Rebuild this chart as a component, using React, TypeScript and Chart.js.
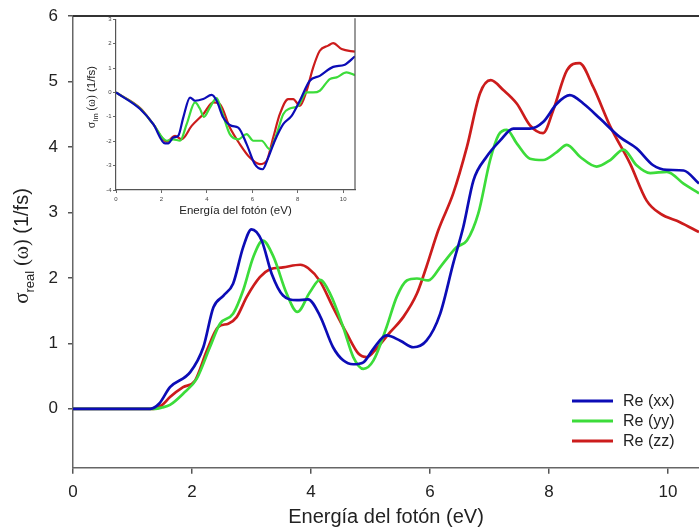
import React, { useEffect, useRef } from 'react';
import { Chart, registerables } from 'chart.js';
Chart.register(...registerables);

const SANS = '"Liberation Sans", Arial, sans-serif';
const SERIF = '"Liberation Serif", "Times New Roman", serif';

// ---------- main panel data (σ real) ----------
const xxE = [0, 1.3, 1.45, 1.63, 1.97, 2.19, 2.36, 2.53, 2.69, 2.86, 3.0, 3.17, 3.34, 3.53, 3.76, 3.95, 4.15, 4.37, 4.54, 4.71, 4.88, 5.05, 5.27, 5.5, 5.72, 5.94, 6.17, 6.39, 6.56, 6.73, 6.95, 7.18, 7.4, 7.68, 7.9, 8.13, 8.35, 8.58, 8.86, 9.19, 9.47, 9.75, 9.98, 10.26, 10.52];
const xxV = [0, 0, 0.08, 0.33, 0.56, 0.94, 1.55, 1.73, 1.91, 2.47, 2.74, 2.57, 2.06, 1.73, 1.66, 1.67, 1.42, 0.94, 0.74, 0.68, 0.71, 0.92, 1.12, 1.04, 0.94, 1.04, 1.45, 2.22, 2.78, 3.49, 3.85, 4.1, 4.28, 4.28, 4.38, 4.66, 4.79, 4.66, 4.43, 4.15, 3.98, 3.72, 3.65, 3.64, 3.44];

const yyE = [0, 1.38, 1.5, 1.63, 1.85, 2.08, 2.3, 2.47, 2.69, 2.86, 3.03, 3.19, 3.37, 3.59, 3.77, 3.98, 4.15, 4.32, 4.54, 4.71, 4.88, 5.05, 5.27, 5.44, 5.61, 5.78, 5.97, 6.2, 6.45, 6.62, 6.81, 7.01, 7.15, 7.29, 7.46, 7.68, 7.9, 8.13, 8.3, 8.52, 8.8, 9.03, 9.25, 9.47, 9.7, 9.98, 10.26, 10.52];
const yyV = [0, 0, 0.02, 0.06, 0.23, 0.46, 0.94, 1.3, 1.45, 1.81, 2.32, 2.57, 2.32, 1.76, 1.48, 1.78, 1.97, 1.76, 1.25, 0.79, 0.61, 0.74, 1.25, 1.71, 1.96, 1.99, 1.96, 2.2, 2.47, 2.57, 2.98, 3.8, 4.18, 4.26, 4.05, 3.82, 3.8, 3.92, 4.03, 3.85, 3.7, 3.8, 3.96, 3.72, 3.6, 3.62, 3.44, 3.29];

const zzE = [0, 1.35, 1.5, 1.63, 1.85, 2.05, 2.25, 2.44, 2.61, 2.75, 2.92, 3.14, 3.31, 3.53, 3.82, 3.95, 4.15, 4.37, 4.6, 4.8, 4.94, 5.1, 5.33, 5.55, 5.78, 5.94, 6.14, 6.39, 6.62, 6.84, 7.02, 7.23, 7.46, 7.68, 7.9, 8.07, 8.3, 8.51, 8.74, 9.03, 9.36, 9.64, 9.87, 10.2, 10.52];
const zzV = [0, 0, 0.06, 0.18, 0.33, 0.43, 0.89, 1.25, 1.3, 1.4, 1.71, 2.01, 2.13, 2.16, 2.2, 2.15, 1.95, 1.55, 1.15, 0.84, 0.79, 0.92, 1.17, 1.4, 1.76, 2.17, 2.73, 3.29, 4.0, 4.82, 5.02, 4.87, 4.66, 4.33, 4.21, 4.56, 5.17, 5.28, 4.92, 4.31, 3.75, 3.18, 2.98, 2.85, 2.7];

// ---------- inset data (σ Im) ----------
const imXxE = [0, 1.06, 1.64, 2.16, 2.3, 2.52, 2.74, 2.96, 3.26, 3.48, 3.84, 4.21, 4.43, 4.72, 5.09, 5.38, 5.75, 6.11, 6.45, 6.7, 6.99, 7.36, 7.73, 8.09, 8.53, 8.97, 9.56, 10.07, 10.52];
const imXxV = [0, -0.68, -1.3, -2.09, -2.09, -1.85, -1.78, -1.03, -0.21, -0.34, -0.27, -0.1, -0.34, -1.03, -1.37, -1.44, -2.12, -2.94, -3.15, -2.67, -1.98, -1.3, -0.96, -0.34, 0.48, 0.68, 1.05, 1.14, 1.48];

const imYyE = [0, 1.06, 1.64, 2.23, 2.52, 2.82, 3.11, 3.48, 3.7, 3.87, 4.13, 4.43, 4.65, 5.01, 5.38, 5.75, 6.04, 6.41, 6.77, 7.07, 7.36, 7.65, 8.02, 8.39, 8.68, 8.97, 9.41, 9.71, 10.15, 10.52];
const imYyV = [0, -0.66, -1.3, -1.98, -1.92, -1.98, -1.3, -0.41, -0.68, -1.0, -0.62, -0.23, -0.75, -1.71, -1.92, -1.71, -1.98, -1.98, -2.33, -1.71, -0.89, -0.66, -0.55, 0, 0, 0.07, 0.55, 0.62, 0.82, 0.71];

const imZzE = [0, 1.06, 1.64, 2.23, 2.6, 2.89, 3.33, 3.84, 4.28, 4.57, 5.01, 5.45, 5.89, 6.33, 6.63, 6.92, 7.21, 7.58, 7.8, 8.09, 8.39, 8.68, 8.97, 9.34, 9.56, 9.93, 10.52];
const imZzV = [0, -0.64, -1.3, -2.02, -1.78, -1.92, -1.37, -0.89, -0.41, -0.48, -1.44, -2.12, -2.67, -2.94, -2.8, -1.85, -0.89, -0.27, -0.27, -0.55, 0.07, 1.03, 1.71, 1.92, 2.02, 1.78, 1.67];

// ---------- labels / ticks ----------
const seriesLabels = ['Re (xx)', 'Re (yy)', 'Re (zz)'];
const seriesColors = ['#0c0cb6', '#3cdc3a', '#cc1c1c'];
const xTitle = 'Energía del fotón (eV)';
const mainXTicks = [0, 2, 4, 6, 8, 10];
const mainYTicks = [0, 1, 2, 3, 4, 5, 6];
const insetXTicks = [0, 2, 4, 6, 8, 10];
const insetYTicks = [-4, -3, -2, -1, 0, 1, 2, 3];

const pts = (xs: number[], ys: number[]) => xs.map((x, i) => ({ x, y: ys[i] }));

function drawSigmaTitle(ctx: CanvasRenderingContext2D, baseX: number, centerY: number, size: number, sub: string) {
  const parts = [
    { t: 'σ', font: `${size * 1.05}px ${SERIF}`, dy: 0 },
    { t: sub, font: `${size * 0.65}px ${SANS}`, dy: size * 0.3 },
    { t: ' (ω)', font: `${size}px ${SERIF}`, dy: 0 },
    { t: ' (1/fs)', font: `${size}px ${SANS}`, dy: 0 },
  ];
  let total = 0;
  const widths = parts.map(p => { ctx.font = p.font; const w = ctx.measureText(p.t).width; total += w; return w; });
  ctx.save();
  ctx.translate(baseX, centerY);
  ctx.rotate(-Math.PI / 2);
  ctx.textAlign = 'left';
  ctx.textBaseline = 'alphabetic';
  let u = -total / 2;
  parts.forEach((p, i) => { ctx.font = p.font; ctx.fillText(p.t, u, p.dy); u += widths[i]; });
  ctx.restore();
}

const mainDecor = {
  id: 'mainDecor',
  afterDraw(chart: any) {
    const { ctx, chartArea: a } = chart;
    ctx.save();
    ctx.strokeStyle = '#333';
    ctx.lineWidth = 2;
    ctx.beginPath();
    ctx.moveTo(a.left, a.top);
    ctx.lineTo(a.right, a.top);
    ctx.stroke();
    ctx.fillStyle = '#222';
    ctx.font = `20px ${SANS}`;
    ctx.textAlign = 'center';
    ctx.textBaseline = 'middle';
    ctx.fillText(xTitle, (a.left + a.right) / 2, a.bottom + 50);
    drawSigmaTitle(ctx, 28, 246, 20, 'real');
    // legend
    seriesLabels.forEach((lab, i) => {
      const y = 401 + i * 20;
      ctx.strokeStyle = seriesColors[i];
      ctx.lineWidth = 3;
      ctx.beginPath();
      ctx.moveTo(572, y);
      ctx.lineTo(613, y);
      ctx.stroke();
      ctx.fillStyle = '#222';
      ctx.font = `16px ${SANS}`;
      ctx.textAlign = 'left';
      ctx.textBaseline = 'middle';
      ctx.fillText(lab, 623, y + 1);
    });
    ctx.restore();
  },
};

const insetDecor = {
  id: 'insetDecor',
  afterDraw(chart: any) {
    const { ctx, chartArea: a } = chart;
    ctx.save();
    ctx.strokeStyle = '#555';
    ctx.lineWidth = 1.2;
    ctx.beginPath();
    ctx.moveTo(a.right, a.top - 1);
    ctx.lineTo(a.right, a.bottom);
    ctx.stroke();
    ctx.fillStyle = '#222';
    ctx.font = `11.5px ${SANS}`;
    ctx.textAlign = 'center';
    ctx.textBaseline = 'middle';
    ctx.fillText(xTitle, (a.left + a.right) / 2, a.bottom + 21);
    drawSigmaTitle(ctx, 15, 80, 11.5, 'Im');
    ctx.restore();
  },
};

function fixScale(size: number, dim: 'width' | 'height') {
  return (s: any) => {
    s[dim] = size;
    s.paddingLeft = 0; s.paddingRight = 0; s.paddingTop = 0; s.paddingBottom = 0;
  };
}

export default function App() {
  const mainRef = useRef<HTMLCanvasElement>(null);
  const insetRef = useRef<HTMLCanvasElement>(null);

  useEffect(() => {
    const mainData = [pts(xxE, xxV), pts(yyE, yyV), pts(zzE, zzV)];
    const insetData = [pts(imXxE, imXxV), pts(imYyE, imYyV), pts(imZzE, imZzV)];
    const mkSets = (arr: any[], bw: number) => arr.map((d, i) => ({
      label: seriesLabels[i], data: d, borderColor: seriesColors[i], backgroundColor: seriesColors[i],
      borderWidth: bw, pointRadius: 0, cubicInterpolationMode: 'monotone', fill: false,
    }));

    const main = new Chart(mainRef.current!, {
      type: 'line',
      data: { datasets: mkSets(mainData, 2.7) as any },
      options: {
        animation: false, responsive: false, maintainAspectRatio: false,
        layout: { padding: { top: 16, left: 0, right: 0, bottom: 0 } },
        plugins: { legend: { display: false }, tooltip: { enabled: false } },
        scales: {
          x: {
            type: 'linear', min: 0, max: 10.52,
            afterBuildTicks: (s: any) => { s.ticks = mainXTicks.map(v => ({ value: v })); },
            afterFit: fixScale(60.3, 'height'),
            grid: { drawOnChartArea: false, tickLength: 6, color: '#555', lineWidth: 1.5 },
            border: { color: '#666', width: 1.5 },
            ticks: { font: { size: 17, family: SANS }, color: '#222', padding: 8, maxRotation: 0 },
          },
          y: {
            type: 'linear', min: -0.9, max: 6,
            afterBuildTicks: (s: any) => { s.ticks = mainYTicks.map(v => ({ value: v })); },
            afterFit: fixScale(73, 'width'),
            grid: { drawOnChartArea: false, tickLength: 5, color: '#555', lineWidth: 1.5 },
            border: { color: '#666', width: 1.5 },
            ticks: { font: { size: 17, family: SANS }, color: '#222', padding: 10 },
          },
        },
      } as any,
      plugins: [mainDecor],
    });

    const inset = new Chart(insetRef.current!, {
      type: 'line',
      data: { datasets: mkSets(insetData, 2.2) as any },
      options: {
        animation: false, responsive: false, maintainAspectRatio: false,
        layout: { padding: { top: 2.3, left: 0, right: 15, bottom: 0 } },
        plugins: { legend: { display: false }, tooltip: { enabled: false } },
        scales: {
          x: {
            type: 'linear', min: 0, max: 10.52,
            afterBuildTicks: (s: any) => { s.ticks = insetXTicks.map(v => ({ value: v })); },
            afterFit: fixScale(32, 'height'),
            grid: { drawOnChartArea: false, tickLength: 3, color: '#666', lineWidth: 1 },
            border: { color: '#555', width: 1.2 },
            ticks: { font: { size: 6, family: SANS }, color: '#444', padding: 3, maxRotation: 0 },
          },
          y: {
            type: 'linear', min: -4, max: 3,
            afterBuildTicks: (s: any) => { s.ticks = insetYTicks.map(v => ({ value: v })); },
            afterFit: fixScale(36, 'width'),
            grid: { drawOnChartArea: false, tickLength: 3, color: '#666', lineWidth: 1 },
            border: { color: '#555', width: 1.2 },
            ticks: { font: { size: 6, family: SANS }, color: '#444', padding: 1.5 },
          },
        },
      } as any,
      plugins: [insetDecor],
    });

    return () => { main.destroy(); inset.destroy(); };
  }, []);

  return (
    <div style={{ position: 'fixed', left: 0, top: 0, width: 699, height: 528, background: '#fff' }}>
      <canvas ref={mainRef} width={699} height={528} style={{ position: 'absolute', left: 0, top: 0, display: 'block' }} />
      <canvas ref={insetRef} width={290} height={205} style={{ position: 'absolute', left: 80, top: 17, display: 'block' }} />
    </div>
  );
}
